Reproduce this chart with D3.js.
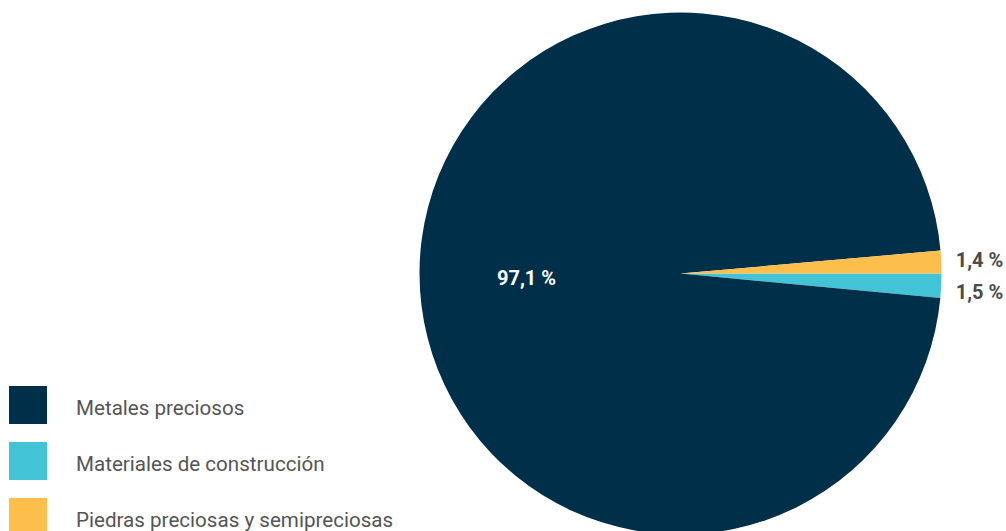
<!DOCTYPE html>
<html>
<head>
<meta charset="utf-8">
<script src="https://cdn.jsdelivr.net/npm/d3@7"></script>
<style>
  html, body { margin: 0; padding: 0; background: #fff; }
  svg { display: block; font-family: Roboto, "Noto Sans", sans-serif; }
</style>
</head>
<body>
<svg id="chart" width="1006" height="531"></svg>
<script>
// Slice order runs clockwise from 3 o'clock
const categories = ["Materiales de construcción", "Metales preciosos", "Piedras preciosas y semipreciosas"];
const shares = [1.5, 97.1, 1.4];
const shareLabels = ["1,5 %", "97,1 %", "1,4 %"];
const legendOrder = ["Metales preciosos", "Materiales de construcción", "Piedras preciosas y semipreciosas"];
const colors = ["#43c4d6", "#002f49", "#fdbf4b"];

const svg = d3.select("#chart");
const cx = 680.5, cy = 273.5, r = 261;

const color = d3.scaleOrdinal().domain(categories).range(colors);

const pie = d3.pie()
  .sort(null)
  .value(d => d.value)
  .startAngle(Math.PI / 2)
  .endAngle(Math.PI / 2 + 2 * Math.PI);

const data = categories.map((c, i) => ({ name: c, value: shares[i], label: shareLabels[i] }));
const arcs = pie(data);
const arc = d3.arc().innerRadius(0).outerRadius(r);

const g = svg.append("g").attr("transform", `translate(${cx},${cy})`);
g.selectAll("path")
  .data(arcs)
  .join("path")
  .attr("d", arc)
  .attr("fill", d => color(d.data.name));

// Large slice label inside, small slices labelled just outside the rim
const inner = d3.arc().innerRadius(r * 0.59).outerRadius(r * 0.59);
arcs.forEach(a => {
  const big = a.data.value > 50;
  let x, y;
  if (big) {
    [x, y] = inner.centroid(a);
    y += 5;
  } else {
    const mid = (a.startAngle + a.endAngle) / 2;
    x = r + 38;
    y = Math.cos(mid) > 0 ? -14 : 18;
  }
  g.append("text")
    .attr("x", x)
    .attr("y", y)
    .attr("dy", "0.35em")
    .attr("text-anchor", "middle")
    .attr("font-size", 20)
    .attr("font-weight", 700)
    .attr("fill", big ? "#ffffff" : "#4a4a4a")
    .text(a.data.label);
});

// Legend
const legend = svg.append("g").attr("transform", "translate(9,386)");
const rows = legend.selectAll("g")
  .data(legendOrder)
  .join("g")
  .attr("transform", (d, i) => `translate(0,${i * 56})`);
rows.append("rect")
  .attr("width", 38)
  .attr("height", 38)
  .attr("fill", d => color(d));
rows.append("text")
  .attr("x", 67)
  .attr("y", 29)
  .attr("font-size", 20.6)
  .attr("fill", "#555555")
  .text(d => d);
</script>
</body>
</html>
